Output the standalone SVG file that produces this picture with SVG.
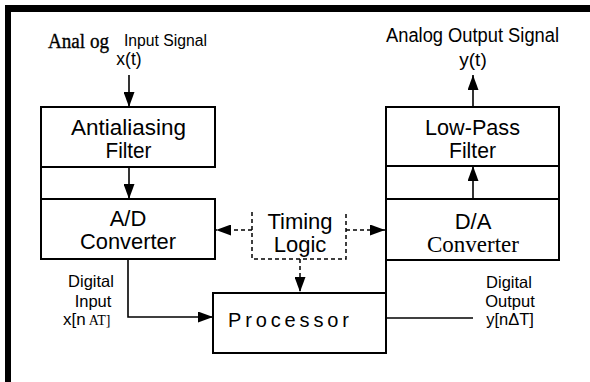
<svg xmlns="http://www.w3.org/2000/svg" width="590" height="382" viewBox="0 0 590 382">
  <style>
    .box { fill: none; stroke: #000; stroke-width: 2; }
    .edge { fill: none; stroke: #000; stroke-width: 2; }
    .wire { fill: none; stroke: #000; stroke-width: 1.6; }
    .dash { fill: none; stroke: #000; stroke-width: 1.5; stroke-dasharray: 4 3; }
    .sans { font-family: "Liberation Sans", Arial, sans-serif; fill: #000; }
    .serif { font-family: "Liberation Serif", "Times New Roman", serif; fill: #000; }
    .big { font-size: 22px; text-anchor: middle; }
    .lbl { font-size: 16.5px; text-anchor: middle; }
  </style>
  <defs>
    <marker id="arrow" markerUnits="userSpaceOnUse" markerWidth="15" markerHeight="11" viewBox="0 0 15 11" refX="15" refY="5.5" orient="auto">
      <path d="M0,0 L15,5.5 L0,11 Z" fill="#000"/>
    </marker>
  </defs>

  <rect width="590" height="382" fill="#fff"/>

  <!-- frame bars -->
  <g id="frame">
    <rect x="5" y="5" width="585" height="7" fill="#000"/>
    <rect x="5" y="5" width="6" height="377" fill="#000"/>
  </g>

  <!-- top labels -->
  <g id="input-label">
    <text class="serif" x="48" y="48" font-size="20.5" stroke="#000" stroke-width="0.35" textLength="61" lengthAdjust="spacingAndGlyphs">Anal og</text>
    <text class="sans" x="124" y="46" font-size="16" textLength="83" lengthAdjust="spacingAndGlyphs">Input Signal</text>
    <text class="sans" x="129" y="65" font-size="17.5" text-anchor="middle">x(t)</text>
  </g>
  <g id="output-label">
    <text class="sans" x="472.5" y="42" font-size="20" text-anchor="middle" textLength="173" lengthAdjust="spacingAndGlyphs">Analog Output Signal</text>
    <text class="sans" x="473" y="66" font-size="19" text-anchor="middle">y(t)</text>
  </g>

  <g id="antialiasing-filter">
    <rect class="box" x="41" y="107" width="174" height="60"/>
    <path class="edge" d="M41,167 V199"/>
    <text class="sans big" x="128.5" y="135" textLength="115" lengthAdjust="spacingAndGlyphs">Antialiasing</text>
    <text class="sans big" x="128.5" y="158" textLength="46" lengthAdjust="spacingAndGlyphs">Filter</text>
  </g>

  <g id="ad-converter">
    <rect class="box" x="41" y="199" width="174" height="60"/>
    <text class="sans big" x="128" y="226">A/D</text>
    <text class="sans big" x="128" y="249" textLength="96" lengthAdjust="spacingAndGlyphs">Converter</text>
  </g>

  <g id="lowpass-filter">
    <rect class="box" x="386" y="107" width="173" height="59"/>
    <path class="edge" d="M386,166 V199 M559,166 V199"/>
    <text class="sans big" x="472.5" y="135" textLength="95" lengthAdjust="spacingAndGlyphs">Low-Pass</text>
    <text class="sans big" x="472.5" y="158" textLength="47" lengthAdjust="spacingAndGlyphs">Filter</text>
  </g>

  <g id="da-converter">
    <rect class="box" x="386" y="199" width="173" height="61"/>
    <path class="edge" d="M386,260 V293"/>
    <text class="sans big" x="473" y="229">D/A</text>
    <text class="serif" x="473" y="252" font-size="23" text-anchor="middle">Converter</text>
  </g>

  <g id="timing-logic">
    <path class="dash" d="M252,212 V259 H346 V212"/>
    <text class="sans big" x="300" y="229">Timing</text>
    <text class="sans big" x="300" y="252">Logic</text>
  </g>

  <g id="processor">
    <rect class="box" x="213" y="293" width="173" height="60"/>
    <text class="sans" x="228" y="327" font-size="20" textLength="121">Processor</text>
  </g>

  <g id="digital-input-label">
    <text class="sans lbl" x="91" y="287">Digital</text>
    <text class="sans lbl" x="93" y="307">Input</text>
    <text x="63" y="325"><tspan class="sans" font-size="17">x[n</tspan><tspan class="serif" font-size="14" dx="3">AT]</tspan></text>
  </g>

  <g id="digital-output-label">
    <text class="sans lbl" x="509" y="288">Digital</text>
    <text class="sans lbl" x="510" y="307">Output</text>
    <text class="sans lbl" x="510" y="325">y[n&#916;T]</text>
  </g>

  <!-- signal paths -->
  <g id="connectors">
    <line class="wire" x1="129" y1="75" x2="129" y2="107" marker-end="url(#arrow)"/>
    <line class="wire" x1="129" y1="167" x2="129" y2="199" marker-end="url(#arrow)"/>
    <polyline class="wire" points="128,259 128,317 213,317" marker-end="url(#arrow)"/>
    <line class="wire" x1="386" y1="318" x2="473" y2="318"/>
    <line class="wire" x1="473" y1="199" x2="473" y2="166" marker-end="url(#arrow)"/>
    <line class="wire" x1="473" y1="107" x2="473" y2="75" marker-end="url(#arrow)"/>
    <line class="dash" x1="252" y1="230" x2="216" y2="230" marker-end="url(#arrow)"/>
    <line class="dash" x1="346" y1="230" x2="385" y2="230" marker-end="url(#arrow)"/>
    <line class="dash" x1="300" y1="259" x2="300" y2="292" marker-end="url(#arrow)"/>
  </g>
</svg>
